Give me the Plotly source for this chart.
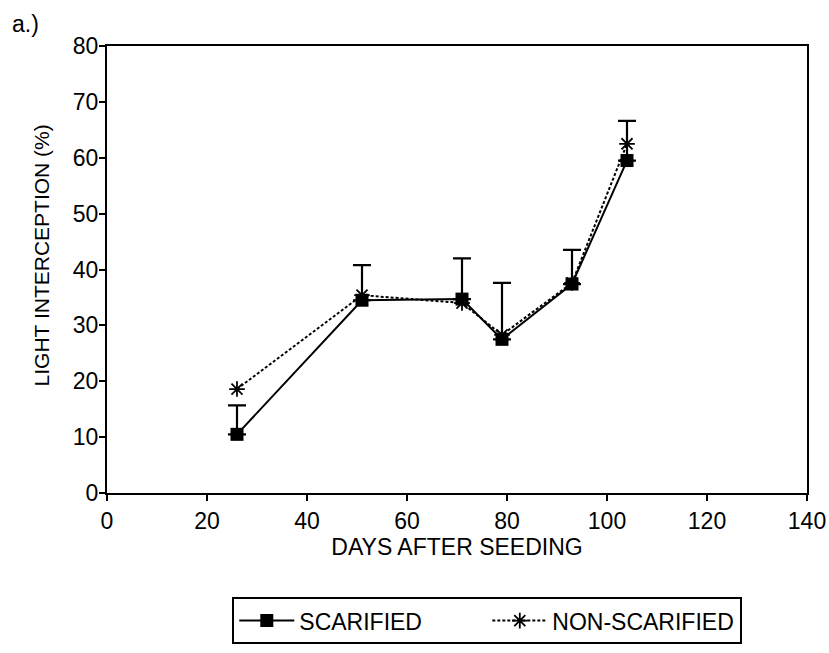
import plotly.graph_objects as go

# Days after seeding at each sampling date
days = [26, 51, 71, 79, 93, 104]

# Light interception (%) per treatment
scarified = [10.5, 34.5, 34.7, 27.5, 37.4, 59.5]
scarified_err = [5.2, 6.3, 7.3, 10.1, 6.1, 7.1]
non_scarified = [18.6, 35.4, 34.0, 28.3, 37.6, 62.5]

x_ticks = [0, 20, 40, 60, 80, 100, 120, 140]
y_ticks = [0, 10, 20, 30, 40, 50, 60, 70, 80]

FONT = "Liberation Sans, Arial, Helvetica, sans-serif"
FS = 23

fig = go.Figure()

fig.add_trace(go.Scatter(
    x=days, y=non_scarified, name="NON-SCARIFIED",
    mode="lines+markers",
    line=dict(color="black", width=2, dash="3px,2px"),
    marker=dict(symbol="asterisk-open", size=13, color="black",
                line=dict(color="black", width=1.8)),
    legendrank=2,
))

fig.add_trace(go.Scatter(
    x=days, y=scarified, name="SCARIFIED",
    mode="lines+markers",
    line=dict(color="black", width=2),
    marker=dict(symbol="square", size=13, color="black"),
    error_y=dict(type="data", array=scarified_err,
                 arrayminus=[0] * len(scarified_err),
                 color="black", thickness=2.2, width=9),
    legendrank=1,
))

axis_common = dict(
    showline=True, linecolor="black", linewidth=2, mirror=True,
    ticks="outside", tickcolor="black", ticklen=6, tickwidth=2,
    showgrid=False, zeroline=False,
    tickfont=dict(family=FONT, size=FS, color="black"),
)

fig.update_xaxes(
    range=[0, 140], tickvals=x_ticks, ticklabelstandoff=0,
    title=dict(text="DAYS AFTER SEEDING", standoff=6,
               font=dict(family=FONT, size=FS, color="black")),
    **axis_common,
)
fig.update_yaxes(
    range=[0, 80], tickvals=y_ticks, ticklabelstandoff=-4,
    **axis_common,
)

# y-axis title, placed slightly above the plot's vertical centre
fig.add_annotation(
    text="LIGHT INTERCEPTION (%)", textangle=-90,
    xref="paper", yref="paper", x=-0.094, y=0.532,
    xanchor="center", yanchor="middle", showarrow=False,
    font=dict(family=FONT, size=21, color="black"),
)

fig.add_annotation(
    text="a.)", xref="paper", yref="paper", x=-0.138, y=1.049,
    xanchor="left", yanchor="middle", showarrow=False,
    font=dict(family=FONT, size=FS, color="black"),
)

fig.update_layout(
    width=829, height=653,
    margin=dict(l=107, r=22, t=46, b=160, autoexpand=False),
    paper_bgcolor="white", plot_bgcolor="white",
    font=dict(family=FONT, color="black"),
    legend=dict(
        orientation="h", x=0.179, y=-0.233, xanchor="left", yanchor="top",
        bordercolor="black", borderwidth=2,
        font=dict(family=FONT, size=FS, color="black"),
        entrywidth=183, traceorder="normal",
        itemwidth=55, tracegroupgap=0,
    ),
)

fig.write_html("out.html")
